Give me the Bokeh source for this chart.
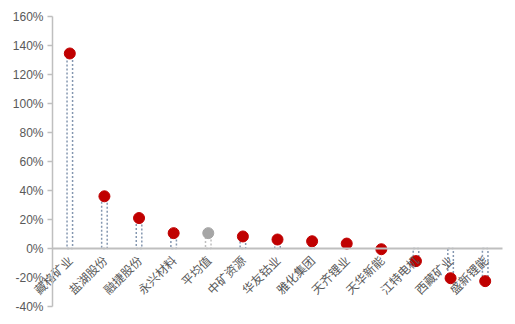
import numpy as np
from bokeh.plotting import figure
from bokeh.models import Range1d, FixedTicker, NumeralTickFormatter, ColumnDataSource, LinearAxis
from bokeh.embed import file_html
from bokeh.resources import INLINE

categories = ["藏格矿业", "盐湖股份", "融捷股份", "永兴材料", "平均值", "中矿资源", "华友钴业",
              "雅化集团", "天齐锂业", "天华新能", "江特电机", "西藏矿业", "盛新锂能"]
values = [1.345, 0.36, 0.21, 0.106, 0.106, 0.083, 0.062, 0.05, 0.034, -0.005, -0.087, -0.205, -0.225]
y_ticks = [-0.4, -0.2, 0.0, 0.2, 0.4, 0.6, 0.8, 1.0, 1.2, 1.4, 1.6]

xs = list(range(len(categories)))
dot_colors = ["#A6A6A6" if c == "平均值" else "#C00000" for c in categories]
bar_colors = ["#BFBFBF" if c == "平均值" else "#8497B0" for c in categories]
src = ColumnDataSource(dict(x=xs, v=values, dc=dot_colors, bc=bar_colors,
                            zero=[0.0] * len(xs)))

W, H = 515, 324
left_px, right_px, top_px, bottom_px = 52, 13, 16, 18
x_lo, x_hi = xs[0] - 0.5, xs[-1] + 0.5
unit_px = (W - left_px - right_px) / (x_hi - x_lo)
x_start = x_lo - left_px / unit_px
x_end = x_hi + right_px / unit_px
y_lo, y_hi = y_ticks[0], y_ticks[-1]
y_unit_px = (H - top_px - bottom_px) / (y_hi - y_lo)
y_start = y_lo - bottom_px / y_unit_px
y_end = y_hi + top_px / y_unit_px

p = figure(width=W, height=H, output_backend="svg", toolbar_location=None,
           x_range=Range1d(x_start, x_end), y_range=Range1d(y_start, y_end),
           x_axis_location=None, y_axis_location=None,
           min_border_left=0, min_border_right=0, min_border_top=0, min_border_bottom=0)
p.outline_line_color = None
p.xgrid.visible = False
p.ygrid.visible = False

ya = LinearAxis(fixed_location=x_lo, bounds=(y_lo, y_hi))
ya.ticker = FixedTicker(ticks=y_ticks)
ya.formatter = NumeralTickFormatter(format="0%")
ya.axis_line_color = "#BFBFBF"
ya.axis_line_width = 1.5
ya.major_tick_line_color = "#BFBFBF"
ya.major_tick_line_width = 1.5
ya.major_tick_out = 5
ya.major_tick_in = 0
ya.minor_tick_line_color = None
ya.major_label_text_font = "Liberation Sans"
ya.major_label_text_font_size = "12px"
ya.major_label_text_color = "#595959"
ya.major_label_standoff = 4
p.add_layout(ya, "left")

xa = LinearAxis(fixed_location=0, bounds=(x_lo, x_hi))
xa.ticker = FixedTicker(ticks=xs)
xa.major_label_overrides = {i: c for i, c in zip(xs, categories)}
xa.major_label_orientation = np.pi / 4
xa.axis_line_color = "#BFBFBF"
xa.axis_line_width = 2
xa.major_tick_line_color = None
xa.minor_tick_line_color = None
xa.major_label_standoff = 3
xa.major_label_text_font = "Noto Sans CJK SC"
xa.major_label_text_font_size = "12px"
xa.major_label_text_color = "#595959"
p.add_layout(xa, "below")

p.vbar(x="x", top="v", bottom="zero", width=0.16, source=src, fill_alpha=0,
       line_color="bc", line_width=1.5, line_dash="2 2")

p.scatter(x="x", y="v", size=11, fill_color="dc", line_color="dc", source=src)

open("out.html", "w").write(file_html(p, INLINE))
